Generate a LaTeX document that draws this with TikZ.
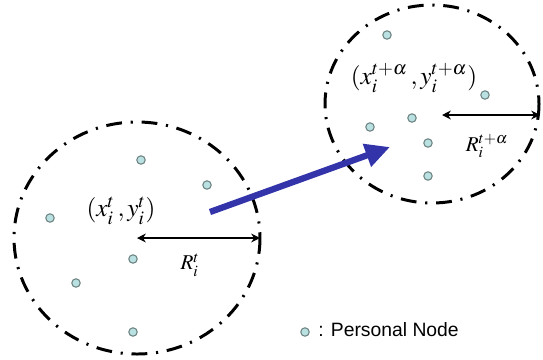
\documentclass[tikz,border=0pt]{standalone}
\usepackage{amsmath}
\usepackage{mathptmx}
\usepackage{fontspec}
\newfontfamily\legendfont{Liberation Sans}
\usepackage{xcolor}
\definecolor{mvblue}{RGB}{51,51,170}
\definecolor{mvdot}{RGB}{185,225,225}
\definecolor{mvdotline}{RGB}{110,130,130}
\usetikzlibrary{arrows.meta, positioning}

\tikzset{
  rangeline/.style={line width=1.7pt, dash pattern=on 9pt off 5pt on 1.2pt off 5pt},
  pnode/.style={circle, draw=mvdotline, fill=mvdot, line width=0.6pt, inner sep=0pt, minimum size=4.8pt},
  radius arrow/.style={{Stealth[length=5pt,width=5pt]}-{Stealth[length=5pt,width=5pt]}, line width=1.1pt},
  move arrow/.style={-{Triangle[length=14pt,width=13pt]}, mvblue, line width=3.6pt}
}

\begin{document}
\begin{tikzpicture}[x=0.02cm, y=-0.02cm]
\useasboundingbox (0,0) rectangle (543,359);

% === Region at time t (left) ===
\coordinate (ct) at (137,238);
\draw[rangeline] (ct) ellipse [x radius=123, y radius=116];
\node[font=\Large, inner sep=1pt] (post) at (121,211) {$(x_i^t\,,y_i^t)$};
\coordinate (rt) at (260,238);
\draw[radius arrow] (ct) -- (rt);
\node[font=\large, inner sep=1pt] (labrt) at (190,265) {$R_i^t$};

% personal nodes
\node[pnode] (a1) at (141,160) {};
\node[pnode] (a2) at (207,185) {};
\node[pnode] (a3) at (50,218) {};
\node[pnode] (a4) at (133,259) {};
\node[pnode] (a5) at (76,283) {};
\node[pnode] (a6) at (133,332) {};

% === Region at time t+alpha (right) ===
\coordinate (cta) at (442,115);
\draw[rangeline] (432,104) ellipse [x radius=107, y radius=99];
\node[font=\Large, inner sep=1pt] (posta) at (414,78) {$(x_i^{t+\alpha}\,,y_i^{t+\alpha})$};
\coordinate (rta) at (540,115);
\draw[radius arrow] (cta) -- (rta);
\node[font=\large, inner sep=1pt] (labrta) at (487,146) {$R_i^{t+\alpha}$};

% personal nodes
\node[pnode] (b1) at (387,35) {};
\node[pnode] (b2) at (485,95) {};
\node[pnode] (b3) at (412,118) {};
\node[pnode] (b4) at (370,127) {};
\node[pnode] (b5) at (428,143) {};
\node[pnode] (b6) at (428,176) {};

% movement
\coordinate (mstart) at (210,212);
\coordinate (mend) at (390,147);
\draw[move arrow] (mstart) -- (mend);

% legend
\node[pnode] (legdot) at (305,332) {};
\node[font=\legendfont\fontsize{11}{13}\selectfont, anchor=west, inner sep=0pt] (legtext) at (318,330) {: Personal Node};

\end{tikzpicture}
\end{document}
